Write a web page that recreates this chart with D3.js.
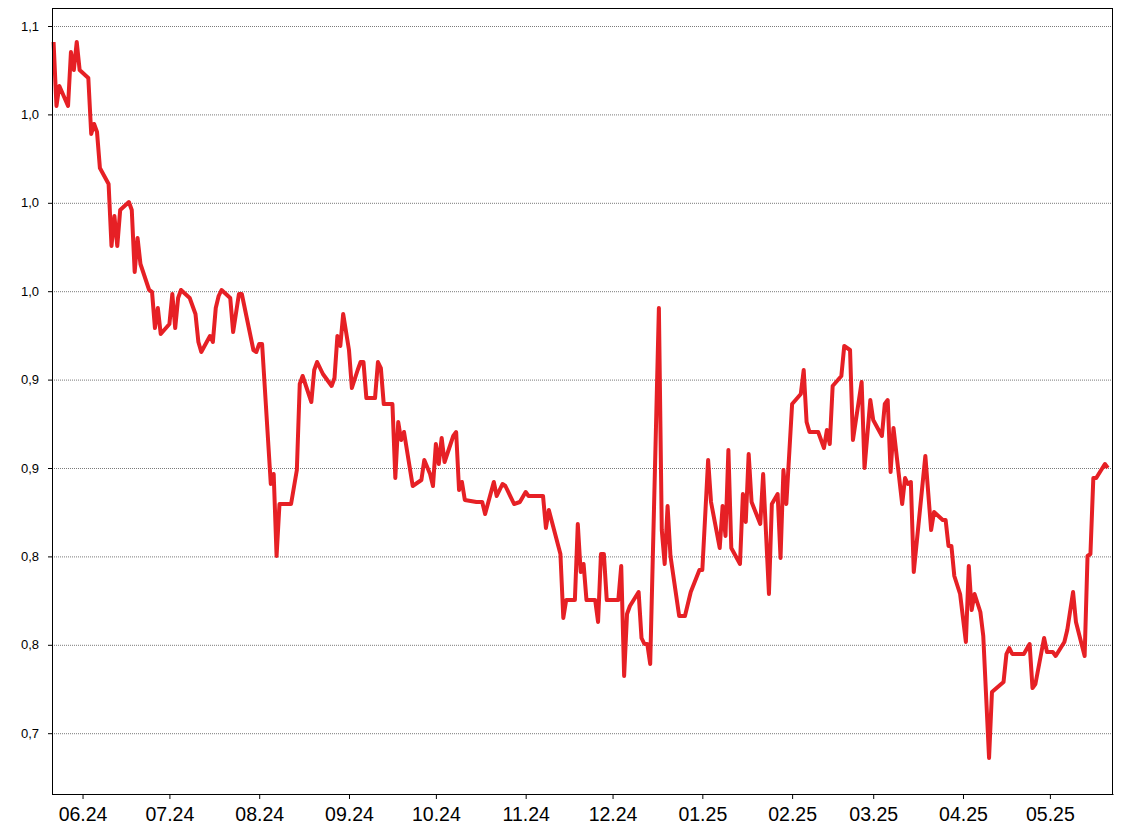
<!DOCTYPE html>
<html>
<head>
<meta charset="utf-8">
<script src="https://cdn.jsdelivr.net/npm/d3@7"></script>
<style>
  html, body { margin: 0; padding: 0; background: #fff; }
  svg { display: block; }
  text { font-family: "Liberation Sans", Arial, sans-serif; fill: #000; }
</style>
</head>
<body>
<svg id="chart" width="1128" height="836"></svg>
<script>
const dates = [
"2024-05-22","2024-05-23","2024-05-24","2024-05-27","2024-05-28","2024-05-29","2024-05-30","2024-05-31",
"2024-06-03","2024-06-04","2024-06-05","2024-06-06","2024-06-07","2024-06-10","2024-06-11","2024-06-12",
"2024-06-13","2024-06-14","2024-06-17","2024-06-18","2024-06-19","2024-06-20","2024-06-21","2024-06-24",
"2024-06-25","2024-06-26","2024-06-27","2024-06-28","2024-07-01","2024-07-02","2024-07-03","2024-07-04",
"2024-07-05","2024-07-08","2024-07-10","2024-07-11","2024-07-12","2024-07-15","2024-07-16","2024-07-17",
"2024-07-18","2024-07-19","2024-07-22","2024-07-23","2024-07-25","2024-07-26","2024-07-30","2024-07-31",
"2024-08-01","2024-08-02","2024-08-05","2024-08-06","2024-08-07","2024-08-08","2024-08-12","2024-08-14",
"2024-08-15","2024-08-16","2024-08-19","2024-08-20","2024-08-21","2024-08-23","2024-08-26","2024-08-27",
"2024-08-28","2024-08-29","2024-08-30","2024-09-01","2024-09-02","2024-09-04","2024-09-05","2024-09-06",
"2024-09-07","2024-09-10","2024-09-11","2024-09-12","2024-09-13","2024-09-16","2024-09-17","2024-09-18",
"2024-09-19","2024-09-20","2024-09-23","2024-09-24","2024-09-26","2024-09-27","2024-09-29","2024-09-30",
"2024-10-01","2024-10-02","2024-10-03","2024-10-04","2024-10-07","2024-10-08","2024-10-09","2024-10-10",
"2024-10-11","2024-10-15","2024-10-17","2024-10-18","2024-10-21","2024-10-22","2024-10-24","2024-10-25",
"2024-10-28","2024-10-30","2024-11-01","2024-11-02","2024-11-07","2024-11-08","2024-11-09","2024-11-13",
"2024-11-14","2024-11-15","2024-11-18","2024-11-19","2024-11-20","2024-11-21","2024-11-22","2024-11-25",
"2024-11-26","2024-11-27","2024-11-28","2024-11-29","2024-12-03","2024-12-04","2024-12-05","2024-12-06",
"2024-12-07","2024-12-10","2024-12-11","2024-12-12","2024-12-13","2024-12-14","2024-12-17","2024-12-18",
"2024-12-19","2024-12-20","2024-12-21","2024-12-24","2024-12-26","2024-12-28","2024-12-31","2025-01-01",
"2025-01-03","2025-01-04","2025-01-07","2025-01-08","2025-01-09","2025-01-10","2025-01-11","2025-01-14",
"2025-01-15","2025-01-16","2025-01-17","2025-01-18","2025-01-21","2025-01-22","2025-01-24","2025-01-25",
"2025-01-27","2025-01-28","2025-01-29","2025-01-30","2025-02-01","2025-02-04","2025-02-05","2025-02-06",
"2025-02-07","2025-02-10","2025-02-12","2025-02-13","2025-02-14","2025-02-15","2025-02-18","2025-02-19",
"2025-02-21","2025-02-22","2025-02-25","2025-02-26","2025-02-28","2025-03-01","2025-03-04","2025-03-05",
"2025-03-06","2025-03-07","2025-03-08","2025-03-11","2025-03-12","2025-03-13","2025-03-14","2025-03-15",
"2025-03-19","2025-03-21","2025-03-22","2025-03-25","2025-03-26","2025-03-27","2025-03-28","2025-03-29",
"2025-03-31","2025-04-02","2025-04-03","2025-04-04","2025-04-05","2025-04-07","2025-04-08","2025-04-10",
"2025-04-11","2025-04-15","2025-04-16","2025-04-17","2025-04-18","2025-04-22","2025-04-24","2025-04-25",
"2025-04-26","2025-04-29","2025-04-30","2025-05-02","2025-05-03","2025-05-06","2025-05-07","2025-05-09",
"2025-05-10","2025-05-13","2025-05-14","2025-05-15","2025-05-16","2025-05-17","2025-05-20","2025-05-21"
];
const prices = [
1.082,1.050,1.060,1.050,1.077,1.068,1.082,1.068,
1.064,1.036,1.041,1.037,1.019,1.011,0.980,0.995,
0.980,0.998,1.002,0.998,0.967,0.984,0.971,0.958,
0.957,0.939,0.949,0.936,0.941,0.956,0.939,0.954,
0.958,0.954,0.946,0.932,0.927,0.935,0.932,0.949,
0.955,0.958,0.954,0.937,0.956,0.956,0.928,0.927,
0.931,0.931,0.861,0.866,0.825,0.851,0.851,0.868,
0.911,0.915,0.902,0.918,0.922,0.916,0.910,0.914,
0.935,0.930,0.946,0.928,0.909,0.918,0.922,0.922,
0.904,0.904,0.922,0.919,0.901,0.901,0.864,0.892,
0.883,0.887,0.860,0.861,0.863,0.873,0.866,0.860,
0.881,0.871,0.884,0.872,0.885,0.887,0.858,0.862,
0.853,0.852,0.852,0.846,0.862,0.855,0.861,0.860,
0.851,0.852,0.857,0.855,0.855,0.839,0.848,0.826,
0.794,0.803,0.803,0.841,0.817,0.821,0.803,0.803,
0.792,0.826,0.826,0.803,0.803,0.820,0.765,0.796,
0.800,0.807,0.784,0.781,0.781,0.771,0.949,0.838,
0.821,0.850,0.825,0.795,0.795,0.807,0.818,0.818,
0.873,0.852,0.829,0.850,0.835,0.878,0.829,0.821,
0.856,0.842,0.876,0.852,0.841,0.866,0.806,0.851,
0.856,0.824,0.868,0.851,0.901,0.906,0.918,0.892,
0.887,0.887,0.879,0.888,0.881,0.910,0.915,0.930,
0.928,0.883,0.912,0.869,0.903,0.893,0.885,0.901,
0.903,0.867,0.889,0.851,0.864,0.861,0.862,0.817,
0.875,0.838,0.847,0.843,0.843,0.830,0.830,0.815,
0.806,0.782,0.820,0.798,0.806,0.797,0.785,0.724,
0.757,0.762,0.776,0.779,0.776,0.776,0.781,0.759,
0.761,0.784,0.777,0.777,0.775,0.782,0.788,0.807,
0.792,0.775,0.825,0.826,0.864,0.864,0.871,0.869
];
const yTicks = [1.09, 1.0458, 1.0016, 0.9574, 0.9132, 0.869, 0.8248, 0.7806, 0.7364];

(function () {
  const mLeft = 52, mRight = 1113, mTop = 8, mBottom = 794;

  const parse = d3.timeParse("%Y-%m-%d");
  const data = dates.map((d, i) => ({ date: parse(d), value: prices[i] }));

  const x = d3.scaleTime()
    .domain([new Date(2024, 4, 21, 11), new Date(2025, 4, 22, 19)])
    .range([mLeft, mRight]);
  const y = d3.scaleLinear()
    .domain([0.706, 1.099])
    .range([mBottom, mTop]);

  const locale = d3.formatLocale({ decimal: ",", thousands: " ", grouping: [3], currency: ["", ""] });
  const fmtY = locale.format(".1f");

  const svg = d3.select("#chart");

  // gridlines
  const grid = svg.append("g").attr("transform", `translate(${mLeft},0)`)
    .call(d3.axisLeft(y).tickValues(yTicks).tickSize(-(mRight - mLeft)).tickFormat(""));
  grid.select(".domain").remove();
  grid.selectAll("line").attr("stroke", "#7a7a7a").attr("stroke-dasharray", "1,1");

  // frame
  svg.append("rect")
    .attr("x", mLeft + 0.5).attr("y", mTop + 0.5)
    .attr("width", mRight - mLeft - 1).attr("height", mBottom - mTop)
    .attr("fill", "none").attr("stroke", "#000").attr("stroke-width", 1);

  // line
  const line = d3.line().x(d => x(d.date)).y(d => y(d.value));
  svg.append("path")
    .datum(data)
    .attr("d", line)
    .attr("fill", "none")
    .attr("stroke", "#e62025")
    .attr("stroke-width", 4)
    .attr("stroke-linejoin", "round")
    .attr("stroke-linecap", "butt");

  // y axis
  const yAxis = svg.append("g").attr("transform", `translate(${mLeft},0)`)
    .call(d3.axisLeft(y).tickValues(yTicks).tickSize(4).tickSizeOuter(0).tickPadding(9).tickFormat(fmtY));
  yAxis.selectAll("text").style("font-size", "13px");
  yAxis.selectAll("line, path").attr("stroke", "#000");

  // x axis
  const xAxis = svg.append("g").attr("transform", `translate(0,${mBottom})`)
    .call(d3.axisBottom(x)
      .ticks(d3.timeMonth.every(1))
      .tickSize(5).tickSizeOuter(0).tickPadding(8)
      .tickFormat(d3.timeFormat("%m.%y")));
  xAxis.selectAll("text").style("font-size", "19.5px");
  xAxis.selectAll("line, path").attr("stroke", "#000");
})();
</script>
</body>
</html>
